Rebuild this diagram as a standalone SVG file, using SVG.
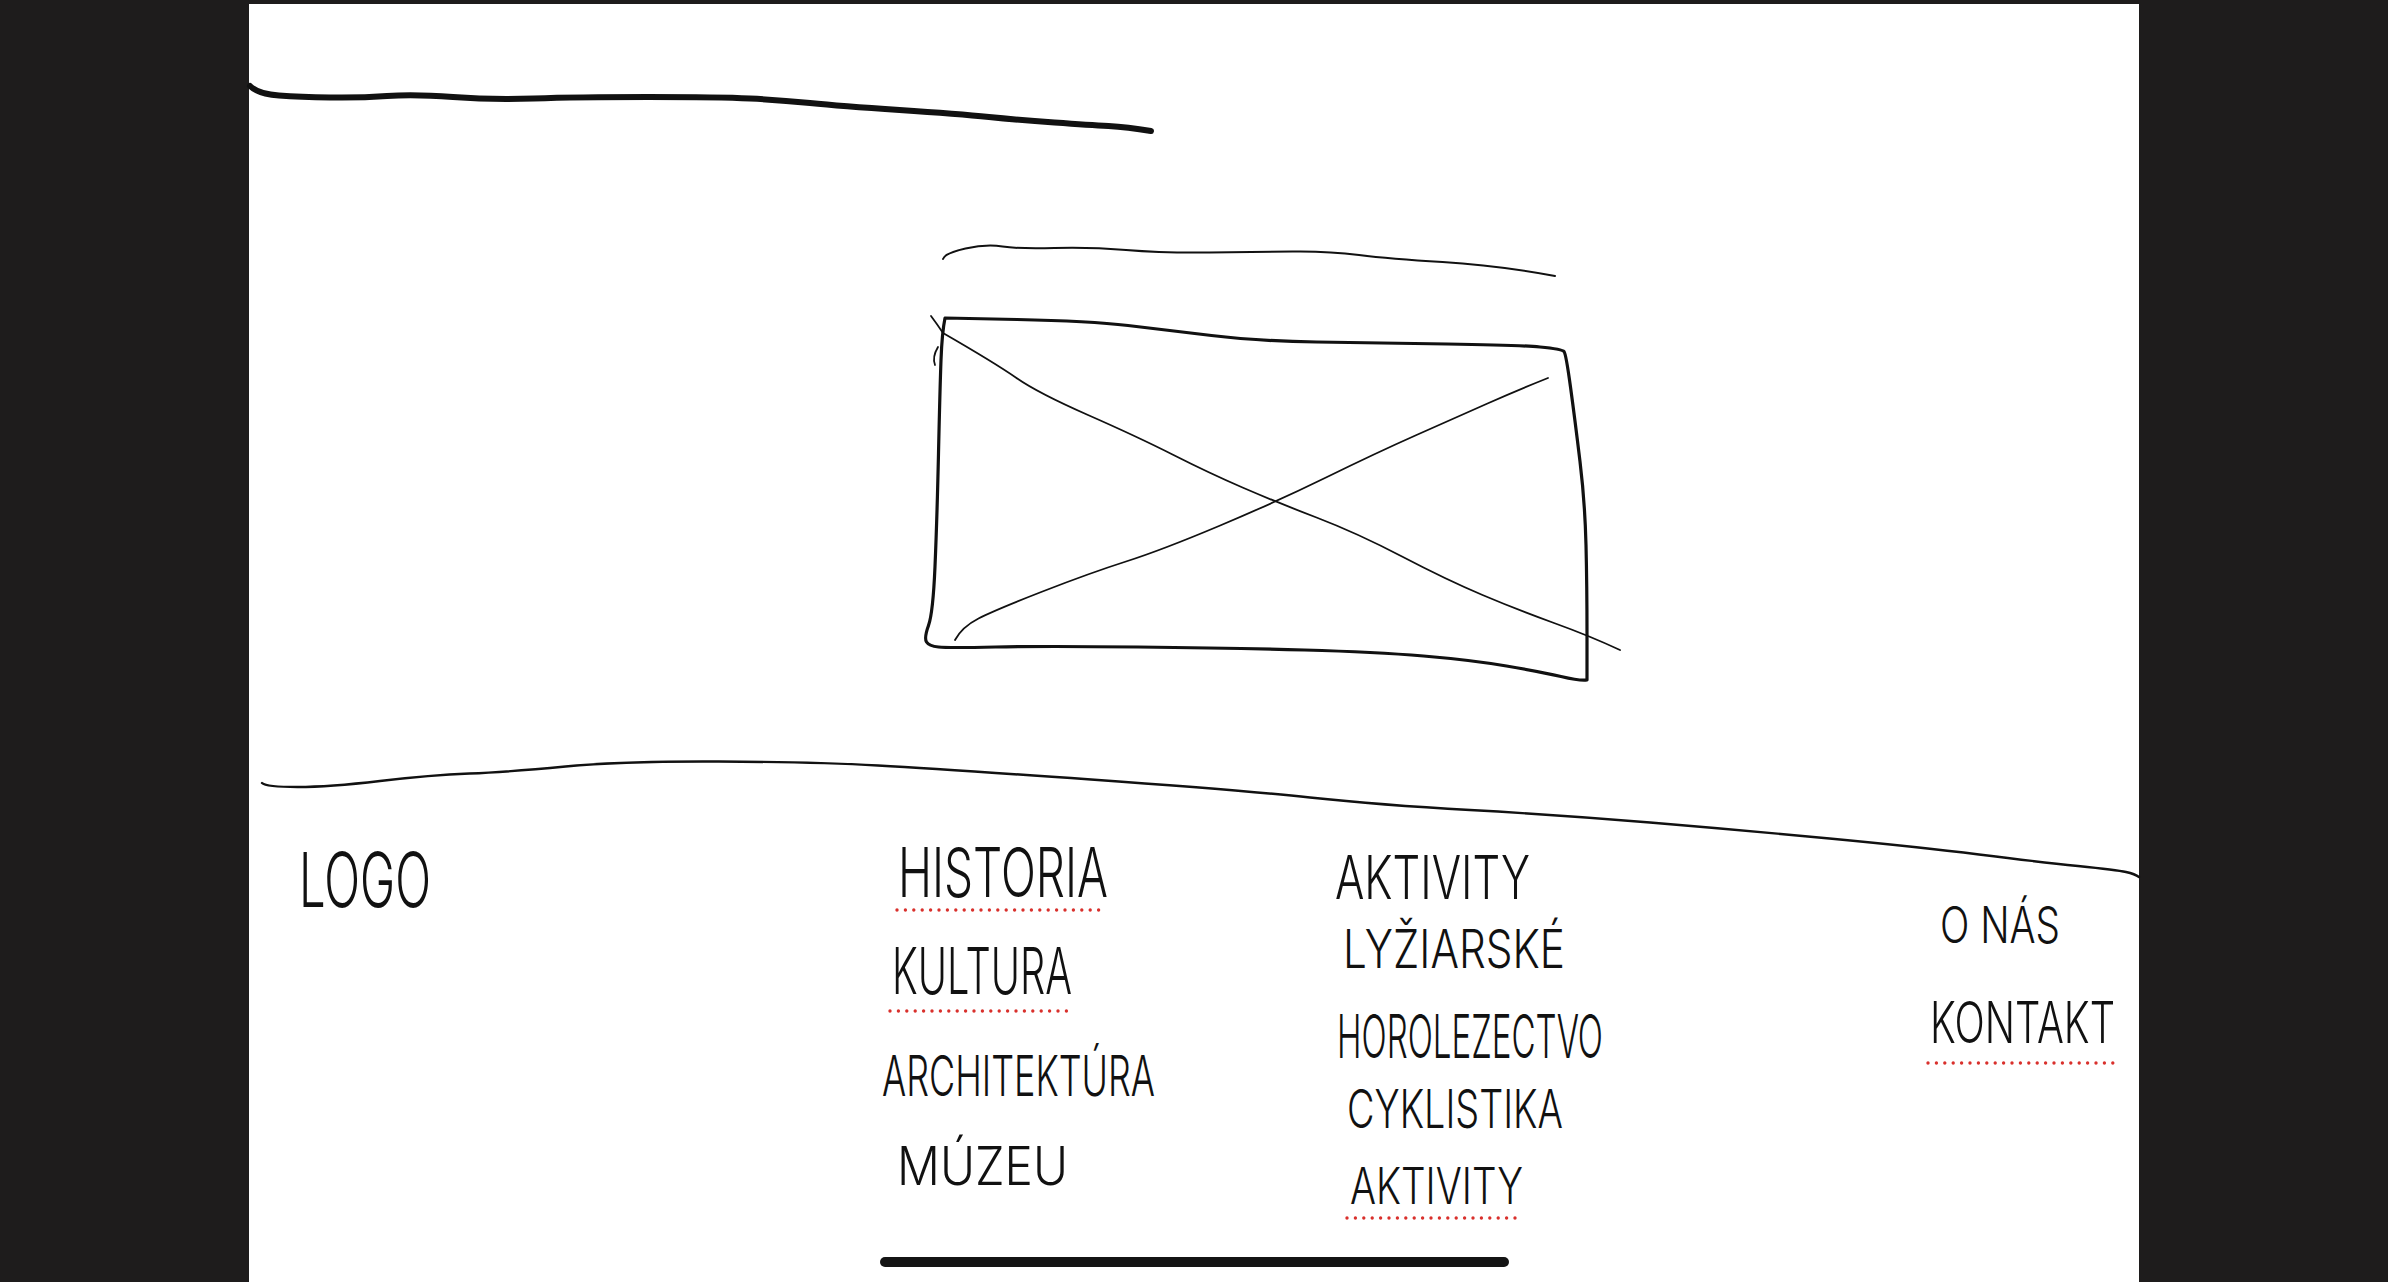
<svg xmlns="http://www.w3.org/2000/svg" width="2388" height="1282" viewBox="0 0 2388 1282">
<style>
.ink{fill:none;stroke:#111;stroke-linecap:round;stroke-linejoin:round}
.hw{font-family:"Inter","Liberation Sans","DejaVu Sans",sans-serif;fill:#111;font-weight:300}
.dots{fill:none;stroke:#d9302c;stroke-width:3.4;stroke-linecap:round;stroke-dasharray:0 8.4}
</style>
<rect x="0" y="0" width="2388" height="1282" fill="#1e1c1c"/>
<rect x="249" y="4" width="1890" height="1278" fill="#ffffff"/>

<g id="header-line">
<path class="ink" stroke-width="6" d="M250,86 Q258,94 279,95.5 Q300,97 330,97.5 Q360,98 387,96 Q414,94 453,97 Q492,100 534,98.5 Q576,97 648,97 Q720,97 750,98.5 Q780,100 810,103 Q840,106 899.5,110 Q959,114 989,117 Q1019,120 1054.5,122.5 Q1090,125 1108.5,126 Q1127,127 1151,131"/>
</g>

<g id="title-line">
<path class="ink" stroke-width="2" d="M943,259 Q945,253 965.5,248.5 Q986,244 1002.5,246.5 Q1019,249 1054.5,248 Q1090,247 1126,250 Q1162,253 1209.5,252.5 Q1257,252 1292.5,251.5 Q1328,251 1359,255 Q1390,259 1442.5,262 Q1495,265 1555,276"/>
</g>

<g id="image-placeholder">
<path class="ink" stroke-width="3.2" d="M945,318 L1017,319.5 Q1090,321 1128,325.5 Q1166,330 1211.5,335.5 Q1257,341 1316.5,342 Q1376,343 1447,344 Q1518,345 1540,347 Q1562,349 1564,351.5 Q1566,354 1570.5,387 Q1575,420 1580,461.5 Q1585,503 1586,545 Q1587,587 1587,633.5 L1587,680 Q1580,681 1561,676.5 Q1542,672 1506.5,666 Q1471,660 1423.5,656 Q1376,652 1304.5,650 Q1233,648 1138,647 Q1043,646 995.5,647 Q948,648 938.5,647 Q929,646 926.5,642 Q924,638 928.5,625.5 Q933,613 935,566.5 Q937,520 938.5,453.5 Q940,387 941,360 Q942,333 945,318 Z"/>
<path class="ink" stroke-width="1.8" d="M931,316 Q937,324 943,333"/>
<path class="ink" stroke-width="1.8" d="M938,347 Q932,357 935,365"/>
<path class="ink" stroke-width="1.8" d="M943,333 Q995,363 1016.5,378 Q1038,393 1088,415 Q1138,437 1173.5,455 Q1209,473 1242.5,487.5 Q1276,502 1316.5,517.5 Q1357,533 1402,556.5 Q1447,580 1482.5,595 Q1518,610 1554,623 Q1590,636 1620,650"/>
<path class="ink" stroke-width="1.8" d="M955,640 Q962,627 978.5,618.5 Q995,610 1042.5,591.5 Q1090,573 1126,561.5 Q1162,550 1219,526 Q1276,502 1326,477.5 Q1376,453 1416.5,435 Q1457,417 1487.5,403.5 Q1518,390 1548,378"/>
</g>

<g id="footer-line">
<path class="ink" stroke-width="2.4" d="M262,783 Q266,787 297.5,787 Q329,787 380,781 Q431,775 469.5,773.5 Q508,772 565.5,766.5 Q623,761 718.5,761.5 Q814,762 878,765.5 Q942,769 1091,779.5 Q1240,790 1310,797.5 Q1380,805 1470,810 Q1560,815 1650,822.5 Q1740,830 1829.5,838.5 Q1919,847 1979,854.5 Q2039,862 2078,866 Q2117,870 2126,872 Q2135,874 2139,877"/>
</g>

<g id="logo">
<text class="hw" x="299" y="907" font-size="76" textLength="132" lengthAdjust="spacingAndGlyphs">LOGO</text>
</g>

<g id="menu-col-1">
<text class="hw" x="898" y="897" font-size="68" textLength="210" lengthAdjust="spacingAndGlyphs">HISTORIA</text>
<line class="dots" x1="897" y1="910" x2="1107" y2="910"/>
<text class="hw" x="892" y="994" font-size="64" textLength="180" lengthAdjust="spacingAndGlyphs">KULTURA</text>
<line class="dots" x1="890" y1="1011" x2="1070" y2="1011"/>
<text class="hw" x="882" y="1096" font-size="56" textLength="273" lengthAdjust="spacingAndGlyphs">ARCHITEKTÚRA</text>
<text class="hw" x="897" y="1185" font-size="54" textLength="171" lengthAdjust="spacingAndGlyphs">MÚZEU</text>
</g>

<g id="menu-col-2">
<text class="hw" x="1335" y="899" font-size="60" textLength="195" lengthAdjust="spacingAndGlyphs">AKTIVITY</text>
<text class="hw" x="1343" y="968" font-size="54" textLength="222" lengthAdjust="spacingAndGlyphs">LYŽIARSKÉ</text>
<text class="hw" x="1337" y="1058" font-size="60" textLength="266" lengthAdjust="spacingAndGlyphs">HOROLEZECTVO</text>
<text class="hw" x="1347" y="1128" font-size="54" textLength="216" lengthAdjust="spacingAndGlyphs">CYKLISTIKA</text>
<text class="hw" x="1350" y="1204" font-size="50" textLength="173" lengthAdjust="spacingAndGlyphs">AKTIVITY</text>
<line class="dots" x1="1347" y1="1218" x2="1520" y2="1218"/>
</g>

<g id="menu-col-3">
<text class="hw" x="1940" y="943" font-size="50" textLength="120" lengthAdjust="spacingAndGlyphs">O NÁS</text>
<text class="hw" x="1930" y="1043" font-size="58" textLength="185" lengthAdjust="spacingAndGlyphs">KONTAKT</text>
<line class="dots" x1="1928" y1="1063" x2="2115" y2="1063"/>
</g>

<rect x="880" y="1257" width="629" height="10" rx="5" fill="#141414"/>
</svg>
